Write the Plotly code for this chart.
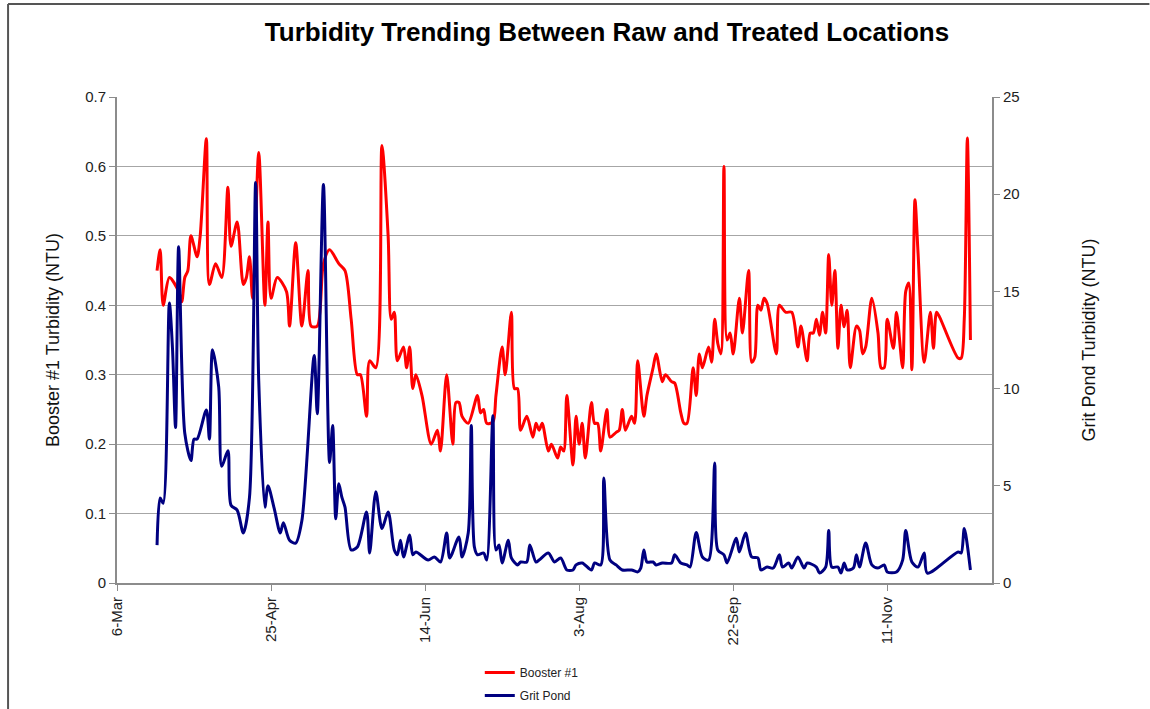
import pandas as pd
import plotly.graph_objects as go

# ---------------- data (days after 6-Mar, NTU) ----------------
base_date = "2009-03-06"

booster_days = [13, 14, 15, 17, 20, 21, 22, 23, 24, 26, 27, 29, 30, 32, 34, 36, 37, 39, 41, 42,
                43, 44, 46, 48, 49, 50, 52, 55, 56, 58, 60, 62, 63, 65, 67, 69, 72, 74, 76, 78,
                79, 81, 82, 84, 86, 88, 89, 90, 91, 93, 94, 95, 96, 97, 99, 102, 104, 105, 107, 109,
                110, 111, 112, 114, 117, 118, 119, 120, 122, 123, 125, 126, 128, 129, 130, 131, 133, 135, 136, 137,
                138, 140, 141, 143, 144, 145, 146, 148, 149, 150, 151, 152, 154, 155, 156, 157, 159, 160, 162, 163,
                164, 165, 167, 168, 169, 171, 172, 174, 175, 177, 178, 180, 181, 183, 184, 185, 187, 188, 189, 190,
                192, 193, 194, 195, 196, 197, 198, 199, 200, 202, 203, 205, 206, 207, 208, 209, 210, 211, 214, 215,
                217, 219, 221, 222, 224, 225, 226, 227, 228, 229, 230, 231, 232, 233, 234, 235, 236, 237, 238, 240,
                241, 242, 243, 245, 247, 248, 249, 250, 252, 253, 255, 256, 257, 258, 259, 260, 262, 264, 265, 266,
                267, 273, 274, 275, 276, 277]
booster_ntu = [0.45, 0.48, 0.40, 0.44, 0.42, 0.405, 0.44, 0.45, 0.50, 0.47, 0.50, 0.64, 0.43, 0.46, 0.44, 0.57, 0.485, 0.52, 0.43, 0.44,
               0.47, 0.41, 0.62, 0.40, 0.52, 0.41, 0.44, 0.42, 0.37, 0.49, 0.37, 0.45, 0.37, 0.37, 0.46, 0.48, 0.46, 0.45, 0.38, 0.30,
               0.30, 0.24, 0.32, 0.31, 0.63, 0.50, 0.38, 0.39, 0.32, 0.34, 0.31, 0.34, 0.28, 0.30, 0.27, 0.20, 0.22, 0.19, 0.30, 0.20,
               0.26, 0.26, 0.24, 0.23, 0.27, 0.245, 0.25, 0.23, 0.232, 0.27, 0.34, 0.30, 0.39, 0.28, 0.28, 0.22, 0.24, 0.21, 0.23, 0.22,
               0.23, 0.19, 0.20, 0.18, 0.196, 0.19, 0.27, 0.17, 0.24, 0.20, 0.23, 0.18, 0.26, 0.23, 0.23, 0.19, 0.25, 0.21, 0.217, 0.22,
               0.25, 0.22, 0.24, 0.23, 0.32, 0.24, 0.27, 0.31, 0.33, 0.29, 0.30, 0.29, 0.288, 0.245, 0.23, 0.23, 0.31, 0.27, 0.33, 0.31,
               0.34, 0.318, 0.38, 0.345, 0.33, 0.60, 0.35, 0.36, 0.33, 0.41, 0.36, 0.45, 0.318, 0.325, 0.40, 0.393, 0.41, 0.403, 0.33, 0.40,
               0.39, 0.39, 0.34, 0.37, 0.32, 0.36, 0.36, 0.38, 0.357, 0.39, 0.36, 0.473, 0.40, 0.45, 0.338, 0.40, 0.369, 0.393, 0.31, 0.37,
               0.364, 0.33, 0.34, 0.41, 0.36, 0.31, 0.31, 0.38, 0.338, 0.39, 0.31, 0.42, 0.432, 0.307, 0.552, 0.475, 0.318, 0.39, 0.338, 0.39,
               0.383, 0.324, 0.324, 0.38, 0.641, 0.35]

grit_days = [13, 14, 15, 17, 18, 19, 20, 22, 24, 25, 26, 29, 30, 31, 33, 34, 36, 37, 39, 41,
             43, 45, 46, 48, 49, 51, 53, 54, 56, 58, 60, 64, 65, 67, 69, 70, 71, 72, 73, 74,
             76, 78, 81, 82, 84, 86, 88, 90, 91, 92, 93, 95, 96, 97, 101, 103, 105, 107, 108, 111,
             112, 114, 115, 116, 117, 119, 120, 122, 123, 124, 125, 127, 128, 130, 131, 133, 134, 136, 137, 140,
             142, 144, 146, 148, 149, 151, 154, 155, 157, 158, 160, 162, 164, 167, 169, 170, 171, 172, 174, 175,
             177, 180, 181, 183, 185, 186, 188, 190, 192, 194, 195, 197, 198, 201, 202, 204, 206, 208, 209, 211,
             213, 215, 216, 218, 219, 221, 223, 224, 227, 228, 230, 231, 232, 234, 235, 236, 237, 239, 240, 241,
             243, 245, 247, 249, 250, 253, 255, 256, 258, 260, 262, 263, 273, 274, 275, 277]
grit_ntu = [1.95, 4.37, 4.1, 14.4, 12.1, 8.0, 17.3, 7.7, 6.3, 7.4, 7.4, 8.9, 7.4, 12.0, 10.1, 6.0, 6.8, 4.0, 3.75, 2.57,
            4.4, 20.6, 10.4, 3.9, 5.0, 3.85, 2.57, 3.1, 2.2, 2.05, 3.2, 11.7, 8.7, 20.5, 6.2, 8.1, 3.3, 5.1, 4.4, 3.9,
            1.7, 1.85, 3.65, 1.54, 4.7, 2.8, 3.65, 1.7, 1.45, 2.2, 1.34, 2.47, 1.45, 1.6, 1.18, 1.34, 1.08, 2.57, 1.29, 2.37,
            1.34, 2.57, 8.1, 1.85, 1.45, 1.54, 1.18, 8.6, 1.7, 1.95, 1.03, 2.2, 1.29, 0.93, 1.08, 1.08, 1.95, 1.08, 1.18, 1.54,
            1.08, 1.29, 0.67, 0.67, 0.93, 1.03, 0.67, 1.03, 0.93, 5.4, 1.18, 0.93, 0.67, 0.67, 0.57, 0.77, 1.7, 1.08, 1.08, 0.93,
            1.03, 1.03, 1.45, 1.03, 0.93, 0.82, 2.6, 1.34, 1.18, 6.17, 1.7, 1.45, 1.03, 2.3, 1.6, 2.57, 1.34, 1.29, 0.67, 0.82,
            0.77, 1.45, 0.82, 1.03, 0.77, 1.34, 0.77, 1.03, 0.82, 0.51, 0.82, 2.7, 0.82, 0.82, 0.51, 1.03, 0.67, 0.77, 1.45, 0.82,
            2.06, 0.93, 0.77, 0.93, 0.57, 0.57, 1.18, 2.7, 1.08, 0.82, 1.54, 0.51, 1.6, 1.54, 2.8, 0.67]

x_tick_step_days = 50
x_axis_span_days = 284

# ---------------------------------------------------------------
base = pd.Timestamp(base_date)
booster_dates = [base + pd.Timedelta(days=d) for d in booster_days]
grit_dates = [base + pd.Timedelta(days=d) for d in grit_days]
x_end = base + pd.Timedelta(days=x_axis_span_days)

FONT = "Liberation Sans, Arial, sans-serif"
AXIS_GRAY = "#8c8c8c"

# plot-area geometry in pixels (used only for placing decorations)
L, R, T, B = 117, 992.5, 97, 583
PW, PH = R - L, B - T


def px(xp):
    return (xp - L) / PW


def py(yp):
    return (B - yp) / PH


fig = go.Figure()
fig.add_trace(go.Scatter(
    x=booster_dates, y=booster_ntu, name="Booster #1", mode="lines",
    legendgroup="booster",
    line=dict(color="#ff0000", width=3, shape="spline", smoothing=0.8),
    yaxis="y",
))
fig.add_trace(go.Scatter(
    x=grit_dates, y=grit_ntu, name="Grit Pond", mode="lines",
    legendgroup="grit",
    line=dict(color="#000080", width=3, shape="spline", smoothing=0.8),
    yaxis="y2",
))

fig.update_layout(
    width=1150, height=709,
    margin=dict(l=L, r=1150 - R, t=T, b=709 - B, autoexpand=False),
    paper_bgcolor="white", plot_bgcolor="white",
    font=dict(family=FONT, color="#222222", size=14),
    title=dict(
        text="<b>Turbidity Trending Between Raw and Treated Locations</b>",
        x=607 / 1150, xref="container", xanchor="center",
        y=1 - 32 / 709, yref="container", yanchor="middle",
        font=dict(family=FONT, size=26, color="#000000"),
    ),
    xaxis=dict(
        type="date",
        range=[base, x_end],
        tick0=base, dtick=x_tick_step_days * 86400000,
        tickformat="%-d-%b", tickangle=-90,
        ticks="outside", ticklen=6, tickcolor=AXIS_GRAY,
        showline=True, linecolor=AXIS_GRAY, linewidth=2,
        showgrid=False, zeroline=False,
        tickfont=dict(size=15, color="#222222"),
    ),
    yaxis=dict(
        range=[0, 0.7], dtick=0.1, tick0=0,
        ticks="outside", ticklen=6, tickcolor=AXIS_GRAY,
        showline=True, linecolor=AXIS_GRAY, linewidth=2,
        showgrid=True, gridcolor="#a6a6a6", gridwidth=1,
        zeroline=False,
        tickfont=dict(size=15, color="#222222"),
    ),
    yaxis2=dict(
        range=[0, 25], dtick=5, tick0=0,
        overlaying="y", side="right",
        ticks="outside", ticklen=6, tickcolor=AXIS_GRAY,
        showline=True, linecolor=AXIS_GRAY, linewidth=2,
        showgrid=False, zeroline=False,
        tickfont=dict(size=15, color="#222222"),
    ),
    legend=dict(
        orientation="v",
        x=px(480), xanchor="left",
        y=py(658), yanchor="top",
        font=dict(family=FONT, size=12, color="#222222"),
        bgcolor="rgba(0,0,0,0)",
        tracegroupgap=4,
    ),
    showlegend=True,
)

# axis titles
fig.add_annotation(
    text="Booster #1 Turbidity (NTU)", textangle=-90,
    xref="paper", yref="paper", x=px(53), y=0.5,
    xanchor="center", yanchor="middle", showarrow=False,
    font=dict(family=FONT, size=18, color="#111111"),
)
fig.add_annotation(
    text="Grit Pond Turbidity (NTU)", textangle=-90,
    xref="paper", yref="paper", x=px(1090), y=0.5,
    xanchor="center", yanchor="middle", showarrow=False,
    font=dict(family=FONT, size=18, color="#111111"),
)

# chart-area border (top and left edges visible in the picture)
fig.add_shape(type="line", xref="paper", yref="paper",
              x0=px(8), x1=px(1150), y0=py(4), y1=py(4),
              line=dict(color="#555555", width=2))
fig.add_shape(type="line", xref="paper", yref="paper",
              x0=px(8), x1=px(8), y0=py(4), y1=py(709),
              line=dict(color="#555555", width=2))

fig.write_html(
    "out.html",
    config={"displayModeBar": False},
    post_script="document.body.style.margin='0px';document.body.style.overflow='hidden';",
)
